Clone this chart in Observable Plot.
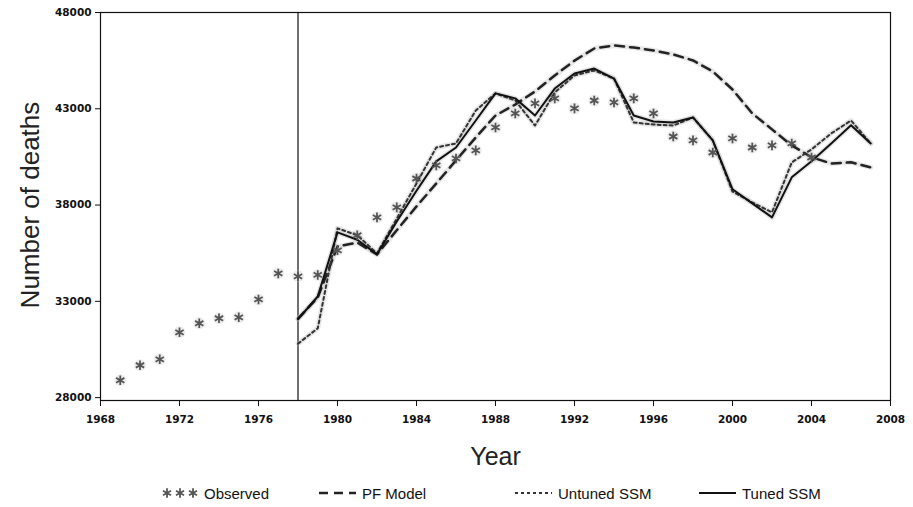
<!DOCTYPE html>
<html>
<head>
<meta charset="utf-8">
<script src="https://cdn.jsdelivr.net/npm/d3@7"></script>
<script src="https://cdn.jsdelivr.net/npm/@observablehq/plot@0.6"></script>
<style>
  html, body { margin: 0; padding: 0; background: white; }
  #wrap { width: 913px; }
  #legend { position: relative; width: 913px; height: 37px; font-family: "Liberation Sans", Arial, sans-serif; font-size: 15px; color: #111; }
  #legend .item { position: absolute; top: 14px; height: 18px; display: flex; align-items: center; white-space: nowrap; }
  #legend svg { margin-right: 4px; }
</style>
</head>
<body>
<div id="wrap">
  <div id="chart"></div>
  <div id="legend"></div>
</div>
<script>
// ---- data ----
const obsYears = [1969,1970,1971,1972,1973,1974,1975,1976,1977,1978,1979,1980,1981,1982,1983,1984,1985,1986,1987,1988,1989,1990,1991,1992,1993,1994,1995,1996,1997,1998,1999,2000,2001,2002,2003,2004];
const observed = [28900,29680,29990,31390,31860,32120,32170,33100,34450,34300,34370,35650,36430,37360,37880,39380,40060,40420,40840,42030,42760,43280,43540,43020,43430,43330,43540,42760,41560,41360,40730,41460,40990,41100,41200,40470];

const modelYears = [1978,1979,1980,1981,1982,1983,1984,1985,1986,1987,1988,1989,1990,1991,1992,1993,1994,1995,1996,1997,1998,1999,2000,2001,2002,2003,2004,2005,2006,2007];
const pfModel    = [32100,33200,35850,36050,35440,36690,37930,39120,40320,41510,42650,43220,43900,44730,45500,46130,46290,46180,46030,45820,45510,44940,44000,42760,41930,41100,40480,40160,40220,39960];
const untunedSSM = [30800,31600,36790,36430,35490,37300,39120,40990,41200,42910,43800,43430,42130,43850,44730,44990,44570,42290,42180,42130,42550,41360,38700,38140,37620,40215,40890,41720,42390,41200];
const tunedSSM   = [32070,33250,36580,36200,35440,37150,38740,40270,40990,42390,43800,43540,42650,44050,44830,45090,44570,42650,42340,42290,42550,41360,38820,38090,37360,39440,40270,41200,42140,41200];

const xTicks = [1968,1972,1976,1980,1984,1988,1992,1996,2000,2004,2008];
const yTicks = [28000,33000,38000,43000,48000];
const dividerYear = [1978];
const xLabel = "Year";
const yLabel = "Number of deaths";
const seriesNames = ["Observed", "PF Model", "Untuned SSM", "Tuned SSM"];

// ---- tables ----
const obsData = obsYears.map((y, i) => ({year: y, value: observed[i]}));
const mk = arr => modelYears.map((y, i) => ({year: y, value: arr[i]}));
const pfData = mk(pfModel), unData = mk(untunedSSM), tuData = mk(tunedSSM);
const yMid = (yTicks[0] + yTicks[yTicks.length - 1]) / 2;

const halo = {stroke: "#bbb", strokeWidth: 5, strokeOpacity: 0.35};

const chart = Plot.plot({
  width: 913,
  height: 470,
  marginLeft: 100,
  marginRight: 23,
  marginTop: 12,
  marginBottom: 70,
  style: {fontFamily: "DejaVu Sans", fontWeight: "bold", fontSize: "10.5px", background: "white", color: "#111"},
  x: {domain: [1968, 2008], ticks: xTicks, tickFormat: d => String(d), label: null, tickSize: 6, tickPadding: 9},
  y: {domain: [27850, 48000], ticks: yTicks, tickFormat: d => String(d), label: null, tickSize: 5, tickPadding: 4},
  marks: [
    Plot.frame({stroke: "#111", strokeWidth: 1.2}),
    Plot.ruleX(dividerYear, {stroke: "#111", strokeWidth: 1.2}),
    // soft scan-like halos
    Plot.line(pfData, {x: "year", y: "value", ...halo}),
    Plot.line(unData, {x: "year", y: "value", ...halo}),
    Plot.line(tuData, {x: "year", y: "value", ...halo}),
    Plot.dot(obsData, {x: "year", y: "value", r: 6, fill: "#ccc", fillOpacity: 0.35, stroke: "none"}),
    // series
    Plot.line(pfData, {x: "year", y: "value", stroke: "#222", strokeWidth: 2.5, strokeDasharray: "9,6"}),
    Plot.line(unData, {x: "year", y: "value", stroke: "#333", strokeWidth: 2, strokeDasharray: "3,3"}),
    Plot.line(tuData, {x: "year", y: "value", stroke: "#111", strokeWidth: 2}),
    Plot.dot(obsData, {x: "year", y: "value", symbol: "asterisk", r: 4.5, stroke: "#555", strokeWidth: 1.8}),
    // axis titles
    Plot.text([xLabel], {frameAnchor: "bottom", dy: 64, fontSize: 25, fontWeight: "normal", fontFamily: "Liberation Sans", fill: "#222"}),
    Plot.text([yLabel], {x: () => xTicks[0], y: () => yMid, dx: -70, rotate: -90, fontSize: 26, fontWeight: "normal", fontFamily: "Liberation Sans", fill: "#222"})
  ]
});
document.getElementById("chart").appendChild(chart);

// ---- legend ----
const legend = d3.select("#legend");
const items = [
  {name: seriesNames[0], left: 160, kind: "obs"},
  {name: seriesNames[1], left: 318, kind: "pf"},
  {name: seriesNames[2], left: 514, kind: "un"},
  {name: seriesNames[3], left: 698, kind: "tu"}
];
items.forEach(it => {
  const div = legend.append("div").attr("class", "item").style("left", it.left + "px");
  const svg = div.append("svg").attr("width", 40).attr("height", 16);
  if (it.kind === "obs") {
    [7, 20, 33].forEach(cx => {
      const g = svg.append("g").attr("transform", `translate(${cx},8)`);
      g.append("path").attr("d", d3.symbol(d3.symbolAsterisk, 60)()).attr("stroke", "#555").attr("stroke-width", 1.8).attr("fill", "none");
    });
  } else {
    const st = {pf: {w: 2.5, d: "9,6", c: "#222"}, un: {w: 2, d: "3,3", c: "#333"}, tu: {w: 2, d: null, c: "#111"}}[it.kind];
    const l = svg.append("line").attr("x1", 1).attr("x2", 38).attr("y1", 8).attr("y2", 8)
      .attr("stroke", st.c).attr("stroke-width", st.w);
    if (st.d) l.attr("stroke-dasharray", st.d);
  }
  div.append("span").text(it.name);
});
</script>
</body>
</html>
